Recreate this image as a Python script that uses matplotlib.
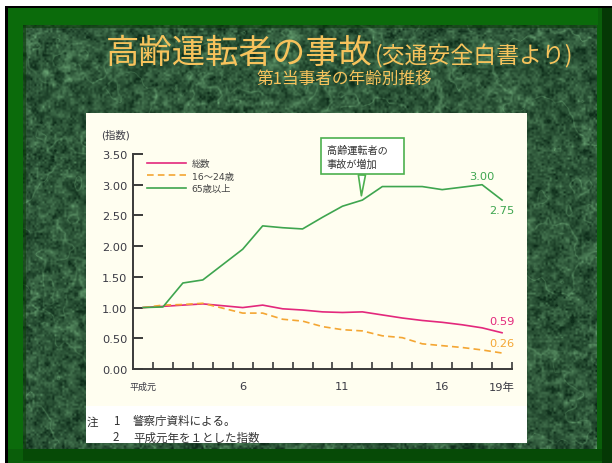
import numpy as np
import matplotlib.pyplot as plt
from matplotlib.patches import Rectangle

plt.rcParams['font.family'] = ['DejaVu Sans', 'Noto Sans CJK JP']

# 平成元年 = 1.00 とした指数
years = np.arange(1, 20)
total = [1.00, 1.02, 1.04, 1.06, 1.03, 1.00, 1.04, 0.98, 0.96, 0.93,
         0.92, 0.93, 0.88, 0.83, 0.79, 0.76, 0.72, 0.67, 0.59]
young = [1.00, 1.04, 1.05, 1.07, 0.99, 0.91, 0.91, 0.81, 0.78, 0.69,
         0.64, 0.62, 0.54, 0.51, 0.41, 0.38, 0.35, 0.31, 0.26]
elderly = [1.00, 1.01, 1.40, 1.45, 1.70, 1.95, 2.33, 2.30, 2.28, 2.47,
           2.65, 2.75, 2.97, 2.97, 2.97, 2.92, 2.96, 3.00, 2.75]
series_names = ['総数', '16〜24歳', '65歳以上']
year_ticks = [1, 6, 11, 16, 19]
year_labels = ['平成元', '6', '11', '16', '19年']
y_ticks = [0.0, 0.5, 1.0, 1.5, 2.0, 2.5, 3.0, 3.5]

PINK = '#e3287c'
ORANGE = '#f4a633'
GREEN = '#3ea54f'
GOLD = '#f7c35c'
INK = '#3a3a44'


def upsample(g, h, w):
    gh, gw = g.shape
    ys = np.linspace(0, gh - 1, h)
    xs = np.linspace(0, gw - 1, w)
    rows = np.array([np.interp(xs, np.arange(gw), r) for r in g])
    return np.array([np.interp(ys, np.arange(gh), c) for c in rows.T]).T


def marble(h, w, seed=11):
    # mottled dark-green stone for the slide background
    rng = np.random.default_rng(seed)
    n = np.zeros((h, w))
    for step, amp in [(50, 1.0), (18, 0.5), (7, 0.3)]:
        g = rng.standard_normal((h // step + 2, w // step + 2))
        n += amp * upsample(g, h, w)
    veins = np.exp(-(n / 0.12) ** 2)
    mid = upsample(rng.standard_normal((h // 6 + 2, w // 6 + 2)), h, w)
    fine = upsample(rng.standard_normal((h // 2 + 2, w // 2 + 2)), h, w)
    v = np.clip(0.32 + 0.22 * veins + 0.12 * mid + 0.12 * fine, 0, 1)
    dark = np.array([14, 45, 26]) / 255
    light = np.array([110, 170, 120]) / 255
    return dark + (light - dark) * v[..., None]


fig = plt.figure(figsize=(6.12, 4.64), dpi=100)
fig.patch.set_facecolor('white')

# slide background in pixel coordinates
bg = fig.add_axes([0, 0, 1, 1])
bg.set_xlim(0, 612)
bg.set_ylim(464, 0)
bg.axis('off')

bg.add_patch(Rectangle((5, 7), 607, 457, fc='#0a5e0a', ec='none'))
bg.add_patch(Rectangle((8, 9), 15, 441, fc='#0b6b0b', ec='none'))
bg.add_patch(Rectangle((8, 9), 590, 17, fc='#0b6b0b', ec='none'))
bg.add_patch(Rectangle((23, 450), 579, 12, fc='#064a06', ec='none'))
bg.add_patch(Rectangle((602, 9), 10, 455, fc='#053805', ec='none'))
bg.add_patch(Rectangle((5, 7), 3, 457, fc='black', ec='none'))
bg.add_patch(Rectangle((5, 7), 607, 2, fc='black', ec='none'))
bg.imshow(marble(424, 574), extent=(23, 597, 450, 26), aspect='auto',
          interpolation='bilinear', zorder=1)
bg.add_patch(Rectangle((23, 26), 574, 3, fc='#0a3d0a', ec='none', alpha=0.6, zorder=2))
bg.add_patch(Rectangle((23, 26), 3, 424, fc='#0a3d0a', ec='none', alpha=0.6, zorder=2))

# chart panel
bg.add_patch(Rectangle((86, 114), 441, 293, fc='#fffef0', ec='none', zorder=3))
bg.add_patch(Rectangle((86, 407), 441, 37, fc='white', ec='none', zorder=3))

bg.text(106, 63, '高齢運転者の事故', fontsize=24, color=GOLD, va='baseline',
        ha='left', family='Noto Sans CJK JP', zorder=4)
bg.text(375, 63, '(交通安全白書より)', fontsize=16.5, color=GOLD, va='baseline',
        ha='left', family='Noto Sans CJK JP', zorder=4)
bg.text(344, 79, '第1当事者の年齢別推移', fontsize=12, color=GOLD, va='center',
        ha='center', family='Noto Sans CJK JP', zorder=4)

bg.text(101, 135, '(指数)', fontsize=7.5, color=INK, va='center', ha='left', zorder=4)
bg.text(87, 422, '注', fontsize=8.3, color='#333333', va='center', zorder=4,
        family='Noto Sans CJK JP')
bg.text(113, 422, '1', fontsize=8.3, color='#333333', va='center', zorder=4,
        family='Noto Sans CJK JP')
bg.text(133, 422, '警察庁資料による。', fontsize=8.3, color='#333333', va='center',
        zorder=4, family='Noto Sans CJK JP')
bg.text(113, 438, '2', fontsize=8.3, color='#333333', va='center', zorder=4,
        family='Noto Sans CJK JP')
bg.text(133, 438, '平成元年を１とした指数', fontsize=8.3, color='#333333',
        va='center', zorder=4, family='Noto Sans CJK JP')

# line chart
ax = fig.add_axes([133 / 612, 94 / 464, 379 / 612, 215 / 464])
ax.patch.set_alpha(0)
ax.plot(years, total, color=PINK, lw=1.2, label=series_names[0])
ax.plot(years, young, color=ORANGE, lw=1.2, ls=(0, (4, 2.5)), label=series_names[1])
ax.plot(years, elderly, color=GREEN, lw=1.2, label=series_names[2])

ax.set_xlim(0.5, 19.5)
ax.set_ylim(0, 3.5)
for s in ['top', 'right']:
    ax.spines[s].set_visible(False)
for s in ['left', 'bottom']:
    ax.spines[s].set_color('#3a3a3a')
    ax.spines[s].set_linewidth(1.4)

ax.set_yticks(y_ticks)
ax.set_yticklabels([f'{v:.2f}' for v in y_ticks])
ax.tick_params(axis='y', direction='in', length=7, width=1.4, color='#3a3a3a',
               labelsize=8.2, labelcolor=INK, pad=4)

ax.set_xticks(np.arange(1.5, 19.6, 1))
ax.set_xticklabels([])
ax.tick_params(axis='x', which='major', direction='in', length=5, width=1.2,
               color='#3a3a3a')
ax.set_xticks(year_ticks, minor=True)
ax.set_xticklabels(year_labels, minor=True)
ax.tick_params(axis='x', which='minor', length=0, pad=9, labelsize=8.2,
               labelcolor=INK)
ax.get_xticklabels(minor=True)[0].set_fontsize(6.5)

leg = ax.legend(loc='upper left', bbox_to_anchor=(0.037, 0.975), frameon=False,
                fontsize=6.7, handlelength=4.2, handletextpad=0.6,
                labelspacing=0.35, borderpad=0, borderaxespad=0)
for t in leg.get_texts():
    t.set_color('#444444')

ax.annotate('高齢運転者の　\n事故が増加', xy=(11.95, elderly[11] + 0.07),
            xytext=(12.0, 3.46), ha='center', va='center', fontsize=7.3,
            color='#333333', multialignment='left', linespacing=1.4,
            annotation_clip=False,
            bbox=dict(boxstyle='square,pad=0.6', fc='white', ec='#4db04f', lw=1.2),
            arrowprops=dict(arrowstyle='wedge,tail_width=0.7,shrink_factor=0.5',
                            fc='white', ec='#4db04f', lw=1.2,
                            shrinkA=0, shrinkB=0))

# end-of-series values
ends = [(18, elderly[17], GREEN, 6), (19, elderly[18], GREEN, -7.5),
        (19, total[18], PINK, 8.5), (19, young[18], ORANGE, 7)]
for x, v, c, dy in ends:
    ax.annotate(f'{v:.2f}', xy=(x, v), xytext=(0, dy), textcoords='offset points',
                ha='center', va='center', fontsize=8.2, color=c,
                annotation_clip=False)

fig.savefig('out.png', dpi=100)
